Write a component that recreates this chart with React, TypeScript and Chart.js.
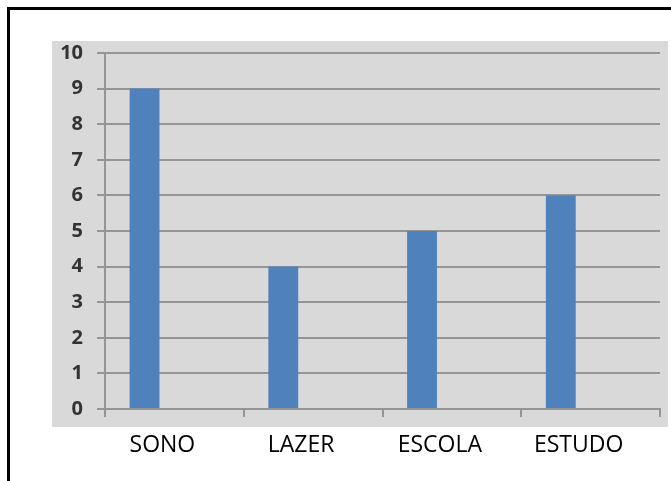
import React, { useEffect, useRef } from "react";
import { Chart, registerables } from "chart.js";

Chart.register(...registerables);

const categories = ["SONO", "LAZER", "ESCOLA", "ESTUDO"];
const hours = [9, 4, 5, 6];
const emptySeries = [null, null, null, null];
const yMin = 0;
const yMax = 10;
const yStep = 1;

const grayBackground = {
  id: "grayBackground",
  beforeDraw(chart: any) {
    const { ctx, chartArea } = chart;
    ctx.save();
    ctx.fillStyle = "#d9d9d9";
    ctx.fillRect(
      chartArea.left - 53,
      chartArea.top - 12,
      chartArea.right - chartArea.left + 61,
      chartArea.bottom - chartArea.top + 30
    );
    ctx.restore();
  },
};

export default function App() {
  const ref = useRef<HTMLCanvasElement>(null);
  useEffect(() => {
    if (!ref.current) return;
    const chart = new Chart(ref.current, {
      type: "bar",
      data: {
        labels: categories,
        datasets: [
          {
            label: "Horas",
            data: hours,
            backgroundColor: "#4f81bd",
            borderWidth: 0,
            categoryPercentage: 0.86,
            barPercentage: 0.5,
          },
          {
            label: "Série 2",
            data: emptySeries as any,
            backgroundColor: "#c0504d",
            categoryPercentage: 0.86,
            barPercentage: 0.5,
          },
        ],
      },
      plugins: [grayBackground],
      options: {
        animation: false,
        responsive: false,
        maintainAspectRatio: false,
        layout: { padding: { left: 35, top: 43, right: 11, bottom: 0 } },
        plugins: { legend: { display: false }, tooltip: { enabled: false } },
        scales: {
          x: {
            afterFit: (s: any) => {
              s.height = 72;
            },
            grid: {
              display: true,
              drawOnChartArea: false,
              drawTicks: true,
              tickLength: 8,
              color: "#959595",
              lineWidth: 2,
            },
            border: { display: true, color: "#959595", width: 2 },
            ticks: {
              color: "#000000",
              font: { family: "'Open Sans'", size: 23 },
              padding: 15,
              labelOffset: -12,
            },
          },
          y: {
            min: yMin,
            max: yMax,
            afterFit: (s: any) => {
              s.width = 60;
            },
            grid: {
              color: "#959595",
              lineWidth: 2,
              tickLength: 8,
            },
            border: { display: true, color: "#959595", width: 2 },
            ticks: {
              stepSize: yStep,
              color: "#333333",
              font: { family: "'Open Sans'", size: 20, weight: "bold" },
              padding: 14,
            },
          },
        },
      },
    });
    return () => chart.destroy();
  }, []);

  return (
    <div
      style={{
        position: "fixed",
        left: 7,
        top: 7,
        width: 664,
        height: 474,
        borderTop: "3px solid #000",
        borderLeft: "3px solid #000",
        background: "#fff",
      }}
    >
      <canvas ref={ref} width={661} height={471} style={{ display: "block" }} />
    </div>
  );
}
